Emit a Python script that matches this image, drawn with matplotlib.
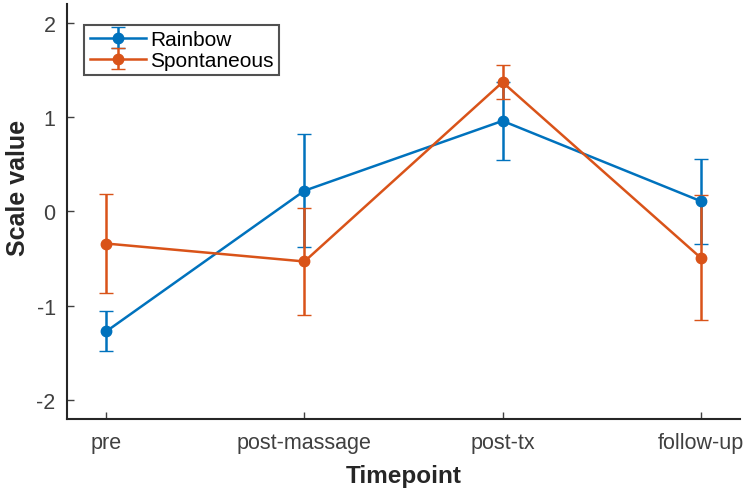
import numpy as np
import matplotlib
matplotlib.use("Agg")
import matplotlib.pyplot as plt

plt.rcParams['font.family'] = ['Liberation Sans', 'DejaVu Sans']
plt.rcParams['axes.unicode_minus'] = False

timepoints = ['pre', 'post-massage', 'post-tx', 'follow-up']
rainbow_mean = [-1.27, 0.22, 0.96, 0.11]
rainbow_err = [0.21, 0.60, 0.41, 0.45]
spont_mean = [-0.34, -0.53, 1.37, -0.49]
spont_err = [0.52, 0.57, 0.18, 0.66]

x = np.arange(1, len(timepoints) + 1)

fig = plt.figure(figsize=(7.5, 4.89), dpi=100)
ax = fig.add_axes([0.089, 0.141, 0.898, 0.849])

ax.errorbar(x, rainbow_mean, yerr=rainbow_err, color='#0072BD', marker='o',
            markersize=7.5, linewidth=1.8, capsize=5, elinewidth=1.8, label='Rainbow')
ax.errorbar(x, spont_mean, yerr=spont_err, color='#D95319', marker='o',
            markersize=7.5, linewidth=1.8, capsize=5, elinewidth=1.8, label='Spontaneous')

ax.set_xlim(0.8, 4.2)
ax.set_ylim(-2.2, 2.2)
ax.set_xticks(x)
ax.set_xticklabels(timepoints)
ax.set_yticks([-2, -1, 0, 1, 2])

for s in ['top', 'right']:
    ax.spines[s].set_visible(False)
for s in ['left', 'bottom']:
    ax.spines[s].set_color('#262626')
    ax.spines[s].set_linewidth(1.5)
ax.tick_params(direction='in', length=5, width=1, colors='#404040', labelsize=15.5)
ax.tick_params(axis='x', pad=9)
ax.tick_params(axis='y', pad=8)

ax.set_xlabel('Timepoint', fontsize=17.5, fontweight='bold', color='#262626', labelpad=8)
ax.set_ylabel('Scale value', fontsize=18, fontweight='bold', color='#262626')
ax.yaxis.set_label_coords(-0.054, 0.56)

leg = ax.legend(loc='upper left', bbox_to_anchor=(0.02, 0.96), fontsize=15, frameon=True,
                fancybox=False, edgecolor='#262626', handlelength=2.7, borderpad=0.25,
                labelspacing=0.1, handletextpad=0.2, borderaxespad=0.2)
leg.get_frame().set_linewidth(1.5)

fig.savefig('out.png', dpi=100)
